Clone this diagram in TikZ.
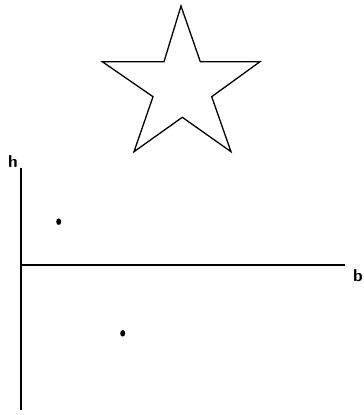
\documentclass[tikz,border=0pt]{standalone}
\usetikzlibrary{shapes.geometric}
\begin{document}
\begin{tikzpicture}[x=1pt,y=-1pt,
  outline/.style={draw=black,line width=1.3pt,line join=miter},
  axis/.style={draw=black,line width=1.6pt},
  pt/.style={ellipse,fill=black,inner sep=0pt,minimum width=5pt,minimum height=6.5pt},
  lbl/.style={font=\sffamily\bfseries\LARGE,inner sep=0pt}]
\useasboundingbox (0,0) rectangle (364,415);
% star
\coordinate (s1) at (181,6);
\coordinate (s2) at (200.3,61.7);
\coordinate (s3) at (260,61.7);
\coordinate (s4) at (211.7,96.7);
\coordinate (s5) at (231,151.7);
\coordinate (s6) at (182.3,117.3);
\coordinate (s7) at (134,151.7);
\coordinate (s8) at (153,96.7);
\coordinate (s9) at (102.3,61.7);
\coordinate (s10) at (164,61.7);
\draw[outline] (s1) -- (s2) -- (s3) -- (s4) -- (s5) -- (s6) -- (s7) -- (s8) -- (s9) -- (s10) -- cycle;
% axes
\coordinate (o) at (21,265);
\coordinate (ytop) at (21,168);
\coordinate (ybot) at (21,410);
\coordinate (xend) at (345,265);
\draw[axis] (ytop) -- (ybot);
\draw[axis] (o) -- (xend);
\node[lbl] (h) at (13,162) {h};
\node[lbl] (b) at (358,276) {b};
\node[pt] (p1) at (58.7,221.7) {};
\node[pt] (p2) at (122.7,333.3) {};
\end{tikzpicture}
\end{document}
